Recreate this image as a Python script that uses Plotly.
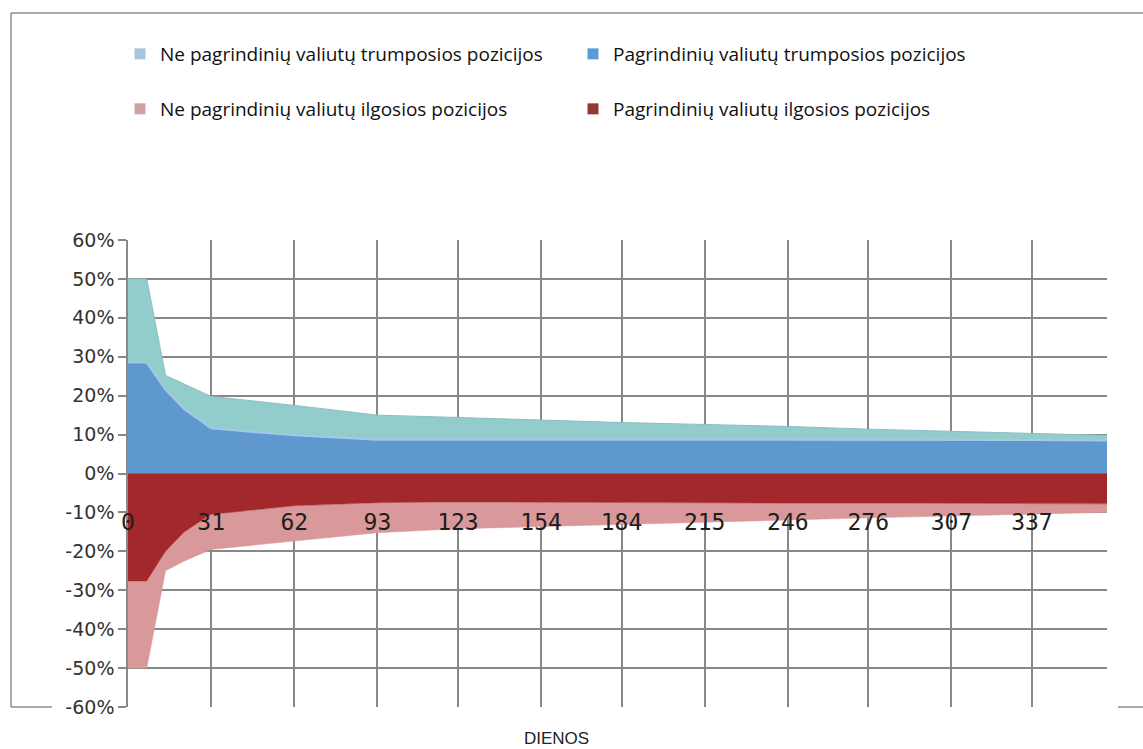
import plotly.graph_objects as go

# ---------------- data ----------------
days = [0, 7, 14, 21, 31, 62, 93, 123, 154, 184, 215, 246, 276, 307, 337, 365]
tick_days = [0, 31, 62, 93, 123, 154, 184, 215, 246, 276, 307, 337]
y_tick_vals = [-0.6, -0.5, -0.4, -0.3, -0.2, -0.1, 0.0, 0.1, 0.2, 0.3, 0.4, 0.5, 0.6]
y_tick_text = ["-60%", "-50%", "-40%", "-30%", "-20%", "-10%", "0%", "10%", "20%", "30%", "40%", "50%", "60%"]

# positive side (short positions), fractions
major_short = [0.285, 0.285, 0.215, 0.165, 0.116, 0.098, 0.087, 0.087, 0.087, 0.087, 0.087, 0.086, 0.086, 0.086, 0.086, 0.085]
minor_short = [0.215, 0.215, 0.037, 0.065, 0.082, 0.077, 0.063, 0.057, 0.050, 0.044, 0.039, 0.035, 0.028, 0.023, 0.018, 0.013]
# negative side (long positions)
major_long = [-0.276, -0.276, -0.200, -0.150, -0.105, -0.083, -0.075, -0.073, -0.074, -0.075, -0.075, -0.076, -0.076, -0.077, -0.077, -0.078]
minor_long = [-0.224, -0.224, -0.050, -0.075, -0.090, -0.090, -0.077, -0.069, -0.062, -0.056, -0.051, -0.044, -0.038, -0.032, -0.027, -0.022]

names = {
    "minor_short": "Ne pagrindinių valiutų trumposios pozicijos",
    "major_short": "Pagrindinių valiutų trumposios pozicijos",
    "minor_long": "Ne pagrindinių valiutų ilgosios pozicijos",
    "major_long": "Pagrindinių valiutų ilgosios pozicijos",
}
colors = {
    "minor_short": "#92CCCB",
    "major_short": "#5E98CF",
    "minor_long": "#D9999A",
    "major_long": "#A3282B",
}
legend_colors = {
    "minor_short": "#A6C4DC",
    "major_short": "#5B9BD5",
    "minor_long": "#CDA2A5",
    "major_long": "#953735",
}

fig = go.Figure()

fig.add_trace(go.Scatter(x=days, y=major_short, stackgroup="pos", mode="lines",
                         line=dict(color="#A3C8EA", width=2), fillcolor=colors["major_short"],
                         showlegend=False, name=names["major_short"]))
fig.add_trace(go.Scatter(x=days, y=minor_short, stackgroup="pos", mode="lines",
                         line=dict(color="#8DBFC3", width=1), fillcolor=colors["minor_short"],
                         showlegend=False, name=names["minor_short"]))
fig.add_trace(go.Scatter(x=days, y=major_long, stackgroup="neg", mode="lines",
                         line=dict(color=colors["major_long"], width=0.5), fillcolor=colors["major_long"],
                         showlegend=False, name=names["major_long"]))
fig.add_trace(go.Scatter(x=days, y=minor_long, stackgroup="neg", mode="lines",
                         line=dict(color=colors["minor_long"], width=0.5), fillcolor=colors["minor_long"],
                         showlegend=False, name=names["minor_long"]))

# legend entries
for key, leg in [("minor_short", "legend"), ("major_short", "legend"),
                 ("minor_long", "legend2"), ("major_long", "legend2")]:
    fig.add_trace(go.Scatter(x=[None], y=[None], mode="markers", name=names[key],
                             marker=dict(symbol="square", size=11, color=legend_colors[key]),
                             legend=leg, showlegend=True))

W, H = 1143, 749
L, R, T, B = 128, 1107, 240, 707
pw, ph = R - L, B - T

def px(x):
    return (x - L) / pw

def py(y):
    return (B - y) / ph

legend_font = dict(family="Open Sans, Noto Sans, sans-serif", size=19, color="#111111")

fig.update_layout(
    width=W, height=H,
    margin=dict(l=L, r=W - R, t=T, b=H - B),
    paper_bgcolor="white", plot_bgcolor="white",
    legend=dict(orientation="h", x=px(120), y=py(35), xanchor="left", yanchor="top",
                entrywidth=408, entrywidthmode="pixels", font=legend_font,
                traceorder="normal", bgcolor="rgba(0,0,0,0)"),
    legend2=dict(orientation="h", x=px(120), y=py(90), xanchor="left", yanchor="top",
                 entrywidth=408, entrywidthmode="pixels", font=legend_font,
                 traceorder="normal", bgcolor="rgba(0,0,0,0)"),
    xaxis=dict(range=[0, 365], tickvals=tick_days, ticktext=[str(d) for d in tick_days],
               showgrid=True, gridcolor="#888888", gridwidth=1.5,
               zeroline=False, showline=False, ticks="",
               anchor="free", position=py(506),
               tickfont=dict(family="DejaVu Sans Mono, monospace", size=23, color="#1e1e1e")),
    yaxis=dict(range=[-0.6, 0.6], tickvals=y_tick_vals, ticktext=y_tick_text,
               showgrid=True, gridcolor="#888888", gridwidth=1.5,
               zeroline=False, showline=True, linecolor="#888888", linewidth=1.5,
               ticks="outside", ticklen=8, tickcolor="#888888", tickwidth=1.5,
               tickfont=dict(family="DejaVu Sans, Verdana, sans-serif", size=19, color="#333333")),
    annotations=[dict(text="DIENOS", x=px(556), y=py(738), xref="paper", yref="paper",
                      showarrow=False, xanchor="center", yanchor="middle",
                      font=dict(family="Liberation Sans, Arial, sans-serif", size=17, color="#222222"))],
    shapes=[
        dict(type="line", xref="paper", yref="paper", x0=px(11), x1=px(1143), y0=py(13), y1=py(13),
             line=dict(color="#8C8C8C", width=1.5)),
        dict(type="line", xref="paper", yref="paper", x0=px(11), x1=px(11), y0=py(13), y1=py(707),
             line=dict(color="#8C8C8C", width=1.5)),
        dict(type="line", xref="paper", yref="paper", x0=px(11), x1=px(52), y0=py(707), y1=py(707),
             line=dict(color="#8C8C8C", width=1.5)),
        dict(type="line", xref="paper", yref="paper", x0=px(1118), x1=px(1143), y0=py(707), y1=py(707),
             line=dict(color="#8C8C8C", width=1.5)),
    ],
)

fig.write_html("out.html", config={"displayModeBar": False},
               post_script="document.body.style.margin='0';document.body.style.overflow='hidden';")
